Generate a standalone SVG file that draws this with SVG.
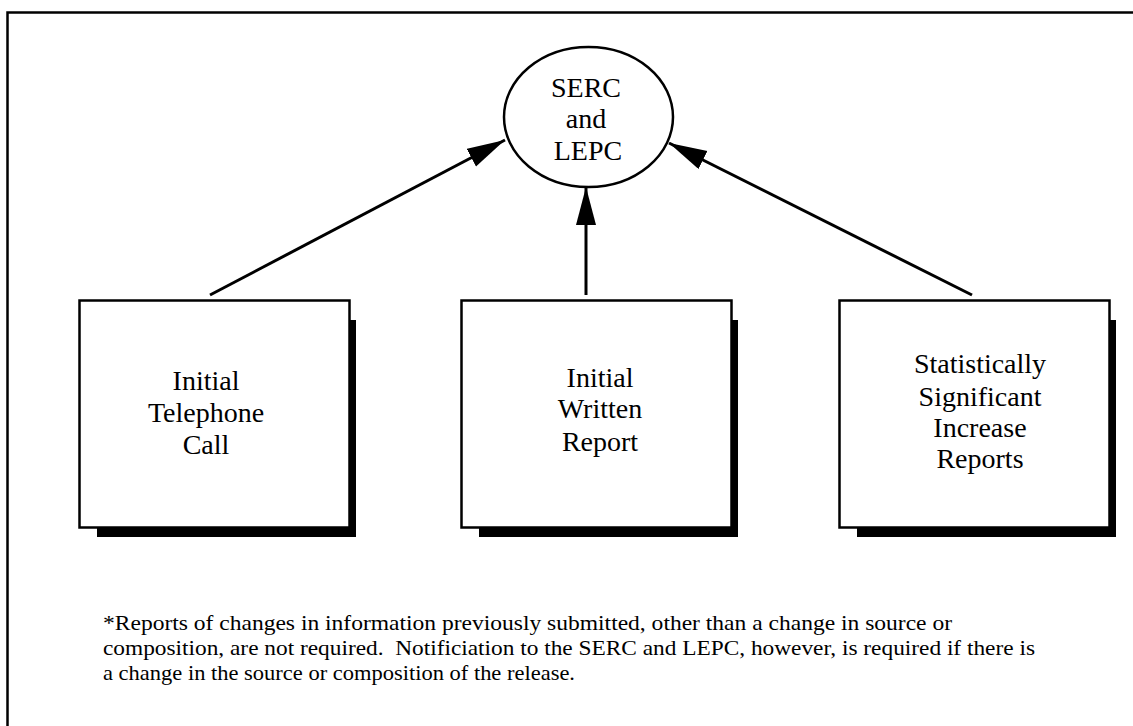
<svg xmlns="http://www.w3.org/2000/svg" width="1133" height="726" viewBox="0 0 1133 726">
<style>
.frame{fill:none;stroke:#000;stroke-width:2.5}
.box{fill:#fff;stroke:#000;stroke-width:2.5}
.shadow{fill:#000}
.lbl{font-family:"Liberation Serif",serif;font-size:28px;fill:#000;text-anchor:middle}
.note{font-family:"Liberation Serif",serif;font-size:21px;fill:#000}
.conn{stroke:#000;stroke-width:3;fill:none;marker-end:url(#ah)}
</style>
<defs>
<marker id="ah" markerUnits="userSpaceOnUse" markerWidth="42" markerHeight="24" refX="38" refY="10" orient="auto">
<path d="M0,0 L38,10 L0,20 Z" fill="#000"/>
</marker>
</defs>
<rect class="frame" x="7.5" y="12.5" width="1140" height="730"/>
<g id="connectors">
<line class="conn" x1="210" y1="295" x2="505" y2="140"/>
<line class="conn" x1="586" y1="295" x2="586" y2="187"/>
<line class="conn" x1="972" y1="295" x2="669" y2="143"/>
</g>
<g id="serc">
<ellipse cx="588.5" cy="117" rx="84.5" ry="70" fill="#fff" stroke="#000" stroke-width="2.5"/>
<text class="lbl" x="586" y="97">SERC</text>
<text class="lbl" x="586" y="128">and</text>
<text class="lbl" x="588" y="160">LEPC</text>
</g>
<g id="box1">
<rect class="shadow" x="97" y="320" width="259" height="217"/>
<rect class="box" x="79.5" y="300.5" width="270" height="227"/>
<text class="lbl" x="206" y="390">Initial</text>
<text class="lbl" x="206" y="422">Telephone</text>
<text class="lbl" x="206" y="454">Call</text>
</g>
<g id="box2">
<rect class="shadow" x="479" y="320" width="259" height="217"/>
<rect class="box" x="461.5" y="300.5" width="270" height="227"/>
<text class="lbl" x="600" y="387">Initial</text>
<text class="lbl" x="600" y="418">Written</text>
<text class="lbl" x="600" y="451">Report</text>
</g>
<g id="box3">
<rect class="shadow" x="857" y="320" width="259" height="217"/>
<rect class="box" x="839.5" y="300.5" width="270" height="227"/>
<text class="lbl" x="980" y="373">Statistically</text>
<text class="lbl" x="980" y="406">Significant</text>
<text class="lbl" x="980" y="437">Increase</text>
<text class="lbl" x="980" y="468">Reports</text>
</g>
<g id="footnote">
<text class="note" x="103" y="630" textLength="849" lengthAdjust="spacingAndGlyphs">*Reports of changes in information previously submitted, other than a change in source or</text>
<text class="note" x="103" y="655" textLength="932" lengthAdjust="spacingAndGlyphs">composition, are not required.&#160; Notificiation to the SERC and LEPC, however, is required if there is</text>
<text class="note" x="103" y="680" textLength="472" lengthAdjust="spacingAndGlyphs">a change in the source or composition of the release.</text>
</g>
</svg>
